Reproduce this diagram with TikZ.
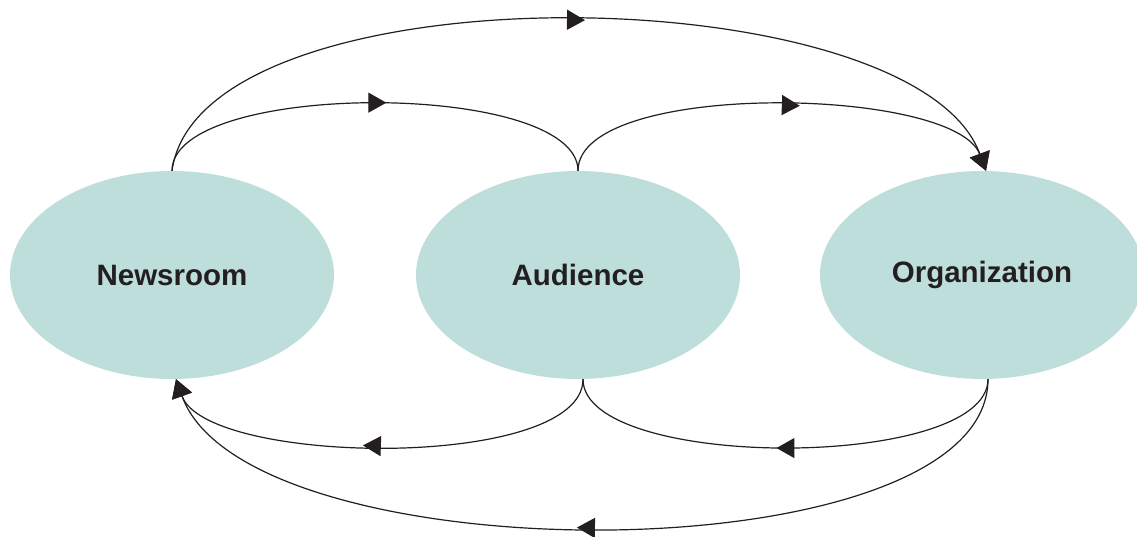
\documentclass[tikz,border=0pt]{standalone}
\usepackage{fontspec}
\setmainfont{Liberation Sans}
\usetikzlibrary{shapes.geometric,arrows.meta,decorations.markings}
\definecolor{ellfill}{RGB}{190,222,219}
\definecolor{ink}{RGB}{35,31,32}
\begin{document}
\begin{tikzpicture}[x=1pt,y=-1pt,
  party/.style={ellipse, fill=ellfill, minimum width=324pt, minimum height=208pt, inner sep=0pt,
    font=\fontsize{29.5}{32}\selectfont\bfseries, text=ink},
  flow/.style={draw=ink, line width=1.2pt, postaction={decorate},
    decoration={markings, mark=at position #1 with {\arrow[xshift=9pt]{Triangle[length=18pt,width=20pt]}}}},
  flow/.default=0.5,
  endtip/.style={-{Triangle[length=18pt,width=21pt]}}
]
\useasboundingbox (0,0) rectangle (1137,537);
\clip (0,0) rectangle (1137,537);

\node[party] (news) at (172,275) {Newsroom};
\node[party] (aud) at (578,275) {Audience};
\node[party] (org) at (982,275) {Organization};

% top
\draw[flow=0.502, endtip] (news.north) .. controls (200,-35) and (914,-26) .. ([xshift=4pt]org.north);
\draw[flow=0.505] (news.north) .. controls (172,80) and (578,80) .. (aud.north);
\draw[flow=0.527, endtip] (aud.north) .. controls (578,80) and (954,86) .. ([xshift=4pt]org.north);

% bottom
\draw[flow=0.503, endtip] ([xshift=6pt]org.south) .. controls (988,577) and (247,578) .. ([xshift=4pt]news.south);
\draw[flow=0.524, endtip] ([xshift=5pt]aud.south) .. controls (583,471) and (207,466) .. ([xshift=4pt]news.south);
\draw[flow=0.50] ([xshift=6pt]org.south) .. controls (988,471) and (583,471) .. ([xshift=5pt]aud.south);
\end{tikzpicture}
\end{document}
